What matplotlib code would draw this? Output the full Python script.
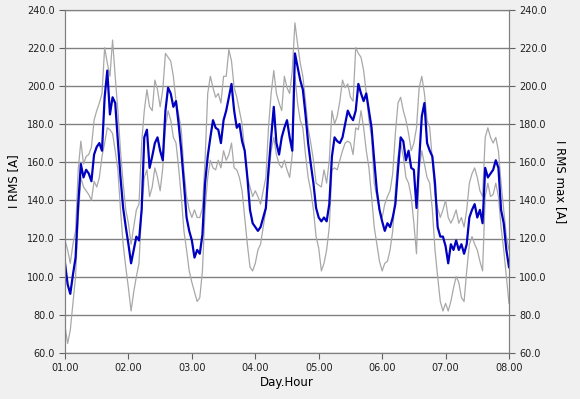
import matplotlib
matplotlib.use("Agg")
import matplotlib.pyplot as plt

# hourly readings, hour 0 = day 01 00:00 ... hour 168 = day 08 00:00
i_rms = [107, 96, 91, 101, 110, 138, 159, 152, 156, 154, 150, 164, 168, 170, 166, 194, 208, 185, 194, 191, 171, 152, 136, 126, 117,
         107, 114, 121, 119, 135, 173, 177, 157, 163, 170, 173, 166, 161, 187, 199, 196, 189, 192, 180, 166, 149, 131, 124, 119,
         110, 114, 112, 122, 149, 163, 173, 182, 178, 177, 170, 182, 187, 194, 201, 187, 178, 180, 171, 166, 152, 135, 128, 126,
         124, 126, 131, 136, 156, 173, 189, 170, 164, 173, 178, 182, 173, 166, 217, 210, 203, 198, 185, 170, 159, 149, 136, 131,
         129, 131, 129, 138, 163, 173, 171, 170, 173, 180, 187, 184, 182, 187, 201, 196, 192, 196, 187, 178, 161, 145, 135, 129,
         124, 128, 126, 131, 138, 156, 173, 171, 161, 166, 157, 156, 136, 161, 184, 191, 170, 166, 163, 149, 126, 121, 121, 116,
         107, 117, 114, 119, 114, 117, 112, 117, 131, 135, 138, 131, 135, 128, 157, 152, 154, 156, 161, 157, 135, 128, 114, 105]

i_max_a = [119, 114, 107, 117, 124, 156, 171, 159, 163, 164, 168, 182, 187, 191, 196, 220, 212, 205, 224, 205, 187, 166, 149, 135, 128,
           117, 126, 135, 138, 170, 187, 198, 189, 187, 203, 198, 189, 198, 217, 215, 213, 205, 192, 185, 177, 156, 142, 135, 131,
           135, 131, 131, 136, 161, 196, 205, 199, 194, 196, 191, 205, 205, 219, 213, 199, 194, 187, 180, 166, 152, 147, 142, 145,
           142, 138, 145, 152, 178, 196, 208, 196, 191, 187, 205, 199, 196, 208, 233, 222, 212, 205, 192, 178, 170, 161, 149, 148,
           147, 156, 149, 161, 187, 180, 184, 192, 203, 199, 201, 194, 192, 220, 217, 215, 208, 196, 182, 173, 149, 142, 135, 131,
           138, 142, 145, 154, 175, 191, 194, 187, 182, 175, 166, 170, 178, 199, 205, 196, 182, 178, 161, 143, 136, 131, 135, 140,
           131, 128, 131, 135, 128, 131, 126, 135, 149, 154, 157, 152, 145, 142, 173, 178, 173, 170, 173, 166, 149, 135, 121, 114]

i_max_b = [74, 65, 72, 86, 100, 131, 152, 147, 145, 143, 140, 150, 147, 152, 163, 170, 178, 177, 175, 166, 156, 135, 117, 105, 94,
           82, 92, 100, 107, 135, 152, 156, 142, 147, 157, 152, 145, 157, 178, 187, 182, 173, 170, 157, 142, 124, 114, 103, 97,
           92, 87, 89, 103, 135, 152, 161, 157, 156, 161, 157, 166, 161, 164, 170, 157, 156, 152, 145, 131, 117, 105, 103, 107,
           114, 117, 126, 135, 152, 166, 173, 164, 159, 157, 161, 156, 152, 164, 205, 191, 182, 178, 164, 152, 145, 135, 121, 115,
           103, 107, 114, 126, 156, 157, 156, 161, 166, 170, 171, 170, 164, 178, 177, 187, 178, 166, 157, 142, 126, 117, 108, 103,
           107, 108, 114, 124, 145, 163, 170, 163, 152, 149, 142, 128, 112, 156, 166, 159, 152, 149, 135, 114, 100, 87, 82, 86,
           82, 87, 94, 100, 97, 89, 87, 103, 117, 121, 117, 114, 108, 103, 142, 149, 142, 143, 149, 142, 126, 114, 100, 86]

hours = list(range(len(i_rms)))
day_labels = ["01.00", "02.00", "03.00", "04.00", "05.00", "06.00", "07.00", "08.00"]
y_ticks = [60, 80, 100, 120, 140, 160, 180, 200, 220, 240]

fig = plt.figure(figsize=(5.8, 3.99), dpi=100)
fig.patch.set_facecolor("#f0f0f0")
ax = fig.add_axes([65/580, 1-353/399, (509-65)/580, (353-9.5)/399])
ax2 = ax.twinx()

# gray (max) under the blue line
ax2.plot(hours, i_max_a, color="#a8a8a8", lw=0.9)
ax2.plot(hours, i_max_b, color="#a8a8a8", lw=0.9)
ax.plot(hours, i_rms, color="#0000c0", lw=1.6)
ax.set_zorder(ax2.get_zorder() + 1)
ax.patch.set_visible(False)
ax2.patch.set_visible(True)
ax2.patch.set_facecolor("white")

for a in (ax, ax2):
    a.set_ylim(60, 240)
    a.set_yticks(y_ticks)
    a.set_yticklabels(["%.1f" % v for v in y_ticks])
    a.set_xlim(0, 168)
    for s in a.spines.values():
        s.set_color("#808080")
    a.tick_params(labelsize=7, colors="#606060", labelcolor="#202020", length=4, width=0.8)

ax.set_xticks(range(0, 169, 24))
ax.set_xticklabels(day_labels)
ax2.grid(True, color="#808080", lw=1)
ax2.set_xticks(range(0, 169, 24))

ax.set_ylabel("I RMS [A]", fontsize=8.5, labelpad=5)
ax2.set_ylabel("I RMS max [A]", fontsize=8.5, rotation=270, labelpad=14)
ax.set_xlabel("Day.Hour", fontsize=8.5, labelpad=2)

fig.savefig("out.png", dpi=100, facecolor=fig.get_facecolor())
